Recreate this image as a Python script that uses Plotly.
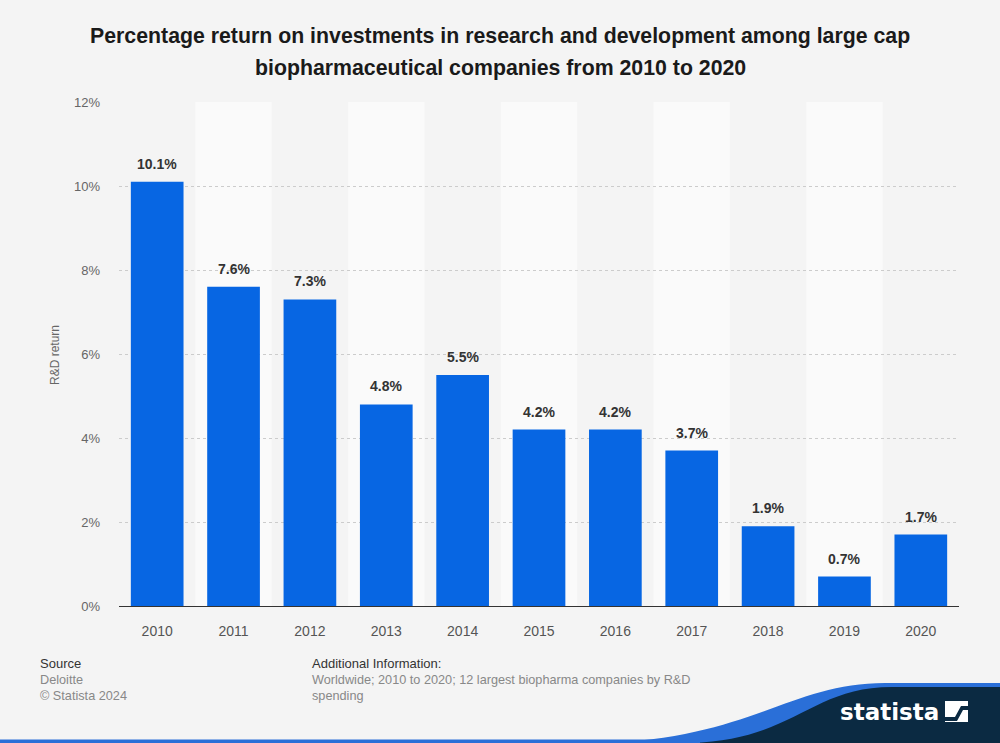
import plotly.graph_objects as go

years = ["2010", "2011", "2012", "2013", "2014", "2015", "2016", "2017", "2018", "2019", "2020"]
returns = [10.1, 7.6, 7.3, 4.8, 5.5, 4.2, 4.2, 3.7, 1.9, 0.7, 1.7]
y_ticks = [0, 2, 4, 6, 8, 10, 12]
y_tick_labels = ["0%", "2%", "4%", "6%", "8%", "10%", "12%"]

W, H = 1000, 743
L, R, T, B = 119, 41, 102, 137
PW, PH = W - L - R, H - T - B

def px(x):
    return (x - L) / PW

def py(y):
    return (H - B - y) / PH

FONT = "Liberation Sans, Arial, sans-serif"
BAR = "#0766e3"
BG = "#f4f4f4"
NAVY = "#0b2a42"
LOGO_BLUE = "#2a6fd8"

fig = go.Figure()
fig.add_trace(go.Bar(
    x=years, y=returns, marker=dict(color=BAR, line=dict(width=0)),
    width=0.69, hoverinfo="skip",
))

shapes = []
# alternating column bands
for i in range(len(years)):
    if i % 2 == 1:
        shapes.append(dict(type="rect", xref="x", yref="paper", x0=i - 0.5, x1=i + 0.5,
                           y0=0, y1=1, fillcolor="#fafafa", line=dict(width=0), layer="below"))

def P(x, y):
    return f"{px(x):.5f},{py(y):.5f}"

blue_path = ("M " + P(600, 743) + " C " + P(750, 739) + " " + P(790, 683) + " " + P(885, 683)
             + " L " + P(1000, 683) + " L " + P(1000, 743) + " Z")
navy_path = ("M " + P(690, 743) + " C " + P(795, 740) + " " + P(810, 687) + " " + P(892, 687)
             + " L " + P(1000, 687) + " L " + P(1000, 743) + " Z")
shapes.append(dict(type="path", xref="paper", yref="paper", path=blue_path,
                   fillcolor=LOGO_BLUE, line=dict(width=0), layer="above"))
shapes.append(dict(type="path", xref="paper", yref="paper", path=navy_path,
                   fillcolor=NAVY, line=dict(width=0), layer="above"))
shapes.append(dict(type="rect", xref="paper", yref="paper", x0=px(0), x1=px(700),
                   y0=py(743), y1=py(739.5), fillcolor=LOGO_BLUE, line=dict(width=0), layer="above"))
shapes.append(dict(type="rect", xref="paper", yref="paper", x0=px(945), x1=px(968),
                   y0=py(722), y1=py(701), fillcolor="white", line=dict(width=0), layer="above"))
icon_path = ("M " + P(945, 717) + " L " + P(955, 717) + " L " + P(961, 706) + " L " + P(968, 706)
             + " L " + P(968, 710) + " L " + P(963, 710) + " L " + P(957, 721) + " L " + P(945, 721) + " Z")
shapes.append(dict(type="path", xref="paper", yref="paper", path=icon_path,
                   fillcolor=NAVY, line=dict(width=0), layer="above"))

annotations = []
# data labels
for i, v in enumerate(returns):
    annotations.append(dict(x=i, y=v, xref="x", yref="y", text=f"<b>{v:.1f}%</b>",
                            showarrow=False, yshift=18,
                            font=dict(family=FONT, size=14, color="#333333")))

# title
annotations.append(dict(x=px(500), y=py(36), xref="paper", yref="paper", xanchor="center", yanchor="middle",
                        text="<b>Percentage return on investments in research and development among large cap</b>",
                        showarrow=False, font=dict(family=FONT, size=21.3, color="#1a1a1a")))
annotations.append(dict(x=px(500), y=py(68), xref="paper", yref="paper", xanchor="center", yanchor="middle",
                        text="<b>biopharmaceutical companies from 2010 to 2020</b>",
                        showarrow=False, font=dict(family=FONT, size=21.3, color="#1a1a1a")))

# y-axis title
annotations.append(dict(x=px(55), y=py(355), xref="paper", yref="paper", text="R&D return",
                        textangle=-90, showarrow=False, xanchor="center", yanchor="middle",
                        font=dict(family=FONT, size=12, color="#666666")))

# footer
def foot(x, y, text, color, size=13):
    annotations.append(dict(x=px(x - 2), y=py(y), xref="paper", yref="paper", text=text,
                            showarrow=False, xanchor="left", yanchor="middle",
                            font=dict(family=FONT, size=size, color=color)))

foot(40, 663, "Source", "#333333")
foot(40, 680, "Deloitte", "#888888", 12.7)
foot(40, 696, "© Statista 2024", "#888888", 12.7)
foot(312, 663, "Additional Information:", "#333333")
foot(312, 680, "Worldwide; 2010 to 2020; 12 largest biopharma companies by R&D", "#888888", 12.7)
foot(312, 696, "spending", "#888888", 12.7)

# logo text
annotations.append(dict(x=px(889), y=py(712), xref="paper", yref="paper", text="<b>statista</b>",
                        showarrow=False, xanchor="center", yanchor="middle",
                        font=dict(family="DejaVu Sans, sans-serif", size=23, color="white")))

fig.update_layout(
    width=W, height=H,
    margin=dict(l=L, r=R, t=T, b=B, pad=0),
    paper_bgcolor=BG, plot_bgcolor=BG,
    showlegend=False, bargap=0.31,
    shapes=shapes, annotations=annotations,
    xaxis=dict(type="category", showgrid=False, showline=True, linecolor="#333333", linewidth=1.2,
               ticks="", tickfont=dict(family=FONT, size=14, color="#555555"),
               ticklabelstandoff=12, range=[-0.5, len(years) - 0.5], fixedrange=True),
    yaxis=dict(range=[0, 12], tickvals=y_ticks, ticktext=y_tick_labels, showgrid=True,
               gridcolor="#cccccc", griddash="dot", gridwidth=1, zeroline=False, showline=False,
               ticks="", tickfont=dict(family=FONT, size=13, color="#666666"),
               ticklabelstandoff=18, fixedrange=True),
)

fig.write_html("out.html", config={"displayModeBar": False},
               post_script="document.body.style.margin='0';document.body.style.padding='0';")
